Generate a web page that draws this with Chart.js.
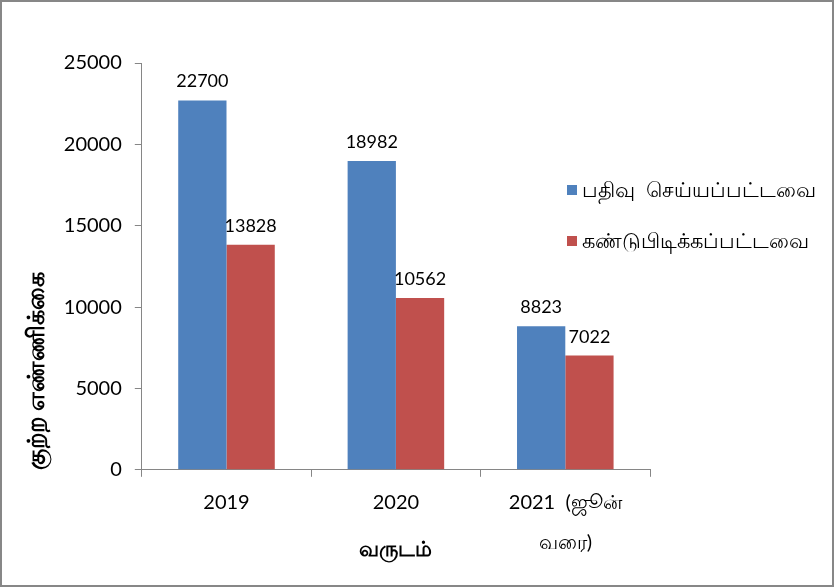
<!DOCTYPE html>
<html>
<head>
<meta charset="utf-8">
<script src="https://cdn.jsdelivr.net/npm/chart.js@4.4.0/dist/chart.umd.min.js"></script>
<style>
    html, body { margin: 0; padding: 0; background: #fff; }
    #wrap { width: 834px; height: 587px; box-sizing: border-box; border: 2px solid #878787; }
</style>
</head>
<body>
<div id="wrap"><canvas id="crimeChart" width="830" height="583"></canvas></div>
<script>
// Chart data
const categories = ['2019', '2020', ['2021  (ஜூன்', 'வரை)']];
const registered = [22700, 18982, 8823];
const detected = [13828, 10562, 7022];
const seriesNames = ['பதிவு  செய்யப்பட்டவை', 'கண்டுபிடிக்கப்பட்டவை'];
const seriesColors = ['#4F81BD', '#C0504D'];
const yTicks = [0, 5000, 10000, 15000, 20000, 25000];
const xTitle = 'வருடம்';
const yTitle = 'குற்ற எண்ணிக்கை';

const FONT = 'Lato, "Noto Sans", sans-serif';
const AXIS_GREY = '#868686';

// value labels above each bar
const valueLabels = {
    id: 'valueLabels',
    afterDatasetsDraw(chart) {
        const ctx = chart.ctx;
        ctx.save();
        ctx.font = '18px ' + FONT;
        ctx.fillStyle = '#000';
        ctx.textAlign = 'center';
        ctx.textBaseline = 'alphabetic';
        chart.data.datasets.forEach((ds, i) => {
            chart.getDatasetMeta(i).data.forEach((bar, j) => {
                ctx.fillText(ds.data[j], bar.x, bar.y - 13);
            });
        });
        ctx.restore();
    }
};

// legend sits over the right part of the plot, like the original
const floatingLegend = {
    id: 'floatingLegend',
    afterDraw(chart) {
        const ctx = chart.ctx;
        const rows = [188, 239];
        ctx.save();
        ctx.font = '21px ' + FONT;
        ctx.textBaseline = 'middle';
        ctx.textAlign = 'left';
        chart.data.datasets.forEach((ds, i) => {
            const y = rows[i];
            ctx.fillStyle = ds.backgroundColor;
            ctx.fillRect(565, y - 5, 10, 10);
            ctx.fillStyle = '#000';
            ctx.fillText(ds.label, 580, y);
        });
        ctx.restore();
    }
};

const ctx = document.getElementById('crimeChart').getContext('2d');
new Chart(ctx, {
    type: 'bar',
    data: {
        labels: categories,
        datasets: [
            { label: seriesNames[0], data: registered, backgroundColor: seriesColors[0] },
            { label: seriesNames[1], data: detected, backgroundColor: seriesColors[1] }
        ]
    },
    options: {
        responsive: false,
        animation: false,
        layout: { padding: { top: 61, right: 182, bottom: 17, left: 20 } },
        datasets: {
            bar: { barPercentage: 1, categoryPercentage: 0.57 }
        },
        plugins: {
            legend: { display: false },
            tooltip: { enabled: false }
        },
        scales: {
            x: {
                grid: {
                    offset: true,
                    drawOnChartArea: false,
                    tickLength: 7,
                    color: AXIS_GREY
                },
                border: { color: AXIS_GREY, width: 1 },
                ticks: {
                    color: '#000',
                    padding: 6,
                    maxRotation: 0,
                    font: { family: FONT, size: 20, lineHeight: 2 }
                },
                title: {
                    display: true,
                    text: xTitle,
                    color: '#000',
                    font: { family: FONT, size: 21, weight: 'bold' },
                    padding: { top: -32, bottom: 6 }
                }
            },
            y: {
                min: 0,
                max: 25000,
                afterBuildTicks: scale => {
                    scale.ticks = yTicks.map(v => ({ value: v }));
                },
                grid: {
                    drawOnChartArea: false,
                    tickLength: 7,
                    color: AXIS_GREY
                },
                border: { color: AXIS_GREY, width: 1 },
                ticks: {
                    color: '#000',
                    padding: 13,
                    font: { family: FONT, size: 20 },
                    callback: value => String(value)
                },
                title: {
                    display: true,
                    text: yTitle,
                    align: 'start',
                    color: '#000',
                    font: { family: FONT, size: 24, weight: 'bold' },
                    padding: { top: 0, bottom: 0 }
                }
            }
        }
    },
    plugins: [valueLabels, floatingLegend]
});
</script>
</body>
</html>
